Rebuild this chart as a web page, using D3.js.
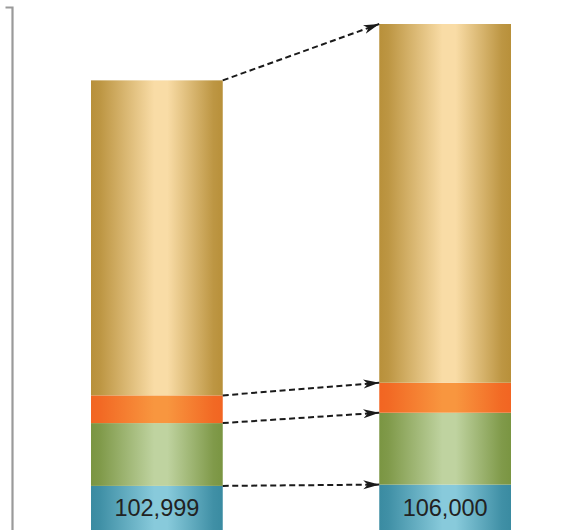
<!DOCTYPE html>
<html><head><meta charset="utf-8">
<script src="https://cdn.jsdelivr.net/npm/d3@7"></script>
<style>html,body{margin:0;padding:0;background:#fff;overflow:hidden}</style>
</head><body><svg id="c" width="582" height="530"></svg>
<script>
// Data
const categories = ["Before", "After"];
const segmentNames = ["base", "green", "orange", "tan"];
const baseValues   = [102999, 106000];
const greenValues  = [146600, 167900];
const orangeValues = [64700, 70000];
const tanValues    = [735600, 837600];
const baseLabels   = ["102,999", "106,000"];

const palette = {
  base:   ["#3a8ba1", "#88cadb"],
  green:  ["#7a9542", "#bfd3a0"],
  orange: ["#f26522", "#f8963f"],
  tan:    ["#b8903a", "#f9dca6"]
};

const svg = d3.select("#c");
const W = 582, H = 530;

const x = d3.scaleBand().domain(categories).range([91, 511]).paddingInner(0.543).paddingOuter(0);
const totals = categories.map((c, i) => baseValues[i] + greenValues[i] + orangeValues[i] + tanValues[i]);
const y = d3.scaleLinear().domain([0, d3.max(totals)]).range([530, 24]);

const rows = categories.map((c, i) => ({
  cat: c, base: baseValues[i], green: greenValues[i], orange: orangeValues[i], tan: tanValues[i]
}));
const stacked = d3.stack().keys(segmentNames)(rows);

const defs = svg.append("defs");
segmentNames.forEach(k => {
  const mix = d3.interpolateRgb(palette[k][0], palette[k][1]);
  const g = defs.append("linearGradient").attr("id", "g-" + k)
    .attr("x1", "0%").attr("x2", "100%").attr("y1", "0%").attr("y2", "0%");
  [[0, 0], [0.07, 0.08], [0.48, 1], [0.58, 1], [0.93, 0.08], [1, 0]].forEach(([o, t]) =>
    g.append("stop").attr("offset", o).attr("stop-color", mix(t)));
});
defs.append("marker").attr("id", "arr")
  .attr("viewBox", "0 0 16 10").attr("refX", 16).attr("refY", 5)
  .attr("markerWidth", 16).attr("markerHeight", 10).attr("markerUnits", "userSpaceOnUse")
  .attr("orient", "auto")
  .append("path").attr("d", "M0,0.5 L16,5 L0,9.5 L4.5,5 Z").attr("fill", "#1a1a1a");

// Axis line
const axis = d3.axisLeft(y).tickValues([]).tickSizeOuter(7);
svg.append("g").attr("transform", "translate(12.5,0)")
  .call(axis)
  .call(g => g.select(".domain")
    .attr("stroke", "#9a9a9a").attr("stroke-width", 2.2)
    .attr("d", "M-7,7.5H0V" + (H + 5)));

// Bars
stacked.forEach(layer => {
  svg.append("g").selectAll("rect").data(layer).join("rect")
    .attr("x", d => x(d.data.cat))
    .attr("width", x.bandwidth())
    .attr("y", d => y(d[1]))
    .attr("height", d => y(d[0]) - y(d[1]))
    .attr("fill", "url(#g-" + layer.key + ")");
});

// Labels in base segment
svg.append("g").selectAll("text").data(stacked[0]).join("text")
  .attr("x", d => x(d.data.cat) + x.bandwidth() / 2)
  .attr("y", d => (y(d[0]) + y(d[1])) / 2)
  .attr("dy", "0.36em")
  .attr("text-anchor", "middle")
  .attr("font-family", "Liberation Sans, Arial, sans-serif")
  .attr("font-size", 23.5)
  .attr("fill", "#222")
  .text((d, i) => baseLabels[i]);

// Connector arrows at top of each segment
const x0 = x(categories[0]) + x.bandwidth();
const x1 = x(categories[1]);
svg.append("g").selectAll("line").data(stacked).join("line")
  .attr("x1", x0).attr("x2", x1)
  .attr("y1", s => y(s[0][1]))
  .attr("y2", s => y(s[1][1]))
  .attr("stroke", "#1a1a1a").attr("stroke-width", 2)
  .attr("stroke-dasharray", "6,3.5")
  .attr("marker-end", "url(#arr)");
</script></body></html>
